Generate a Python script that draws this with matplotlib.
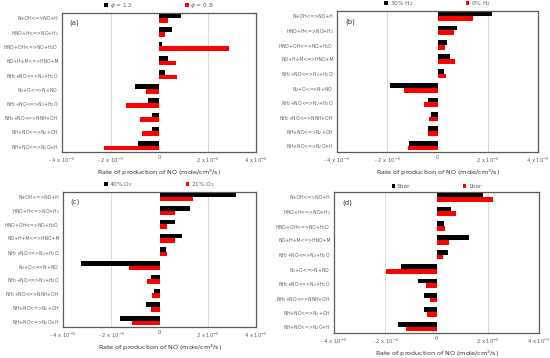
import matplotlib
matplotlib.use('Agg')
import matplotlib.pyplot as plt

# reaction names, top to bottom
reactions = [
    'N+OH<=>NO+H',
    'HNO+H<=>NO+H$_2$',
    'HNO+OH<=>NO+H$_2$O',
    'NO+H+M<=>HNO+M',
    'NH$_2$+NO<=>N$_2$+H$_2$O',
    'N$_2$+O<=>N+NO',
    'NH$_2$+NO<=>N$_2$+H$_2$O',
    'NH$_2$+NO<=>NNH+OH',
    'NH+NO<=>N$_2$+OH',
    'NH+NO<=>N$_2$O+H',
]

# rates in units of 1e-5 mole/cm3/s
a_phi12 = [0.90, 0.52, 0.11, 0.39, 0.23, -0.97, -0.46, -0.28, -0.30, -0.86]
a_phi08 = [0.39, 0.23, 2.87, 0.70, 0.73, -0.54, -1.35, -0.77, -0.69, -2.28]
b_h2_30 = [2.15, 0.77, 0.38, 0.50, 0.26, -1.88, -0.39, -0.24, -0.38, -1.15]
b_h2_0 = [1.41, 0.66, 0.31, 0.68, 0.32, -1.32, -0.54, -0.32, -0.36, -1.19]
c_o2_40 = [3.18, 1.27, 0.66, 0.95, 0.26, -3.24, -0.34, -0.24, -0.57, -1.62]
c_o2_21 = [1.38, 0.64, 0.30, 0.64, 0.32, -1.28, -0.53, -0.31, -0.36, -1.15]
d_5bar = [1.82, 0.55, 0.30, 1.28, 0.45, -1.39, -0.72, -0.47, -0.49, -1.49]
d_1bar = [2.20, 0.77, 0.35, 0.49, 0.24, -1.96, -0.41, -0.26, -0.39, -1.19]

xticks = [-4, -2, 0, 2, 4]
xtick_labels = ['- 4 x 10$^{-5}$', '- 2 x 10$^{-5}$', '0', '2 x 10$^{-5}$', '4 x 10$^{-5}$']

W, H = 550, 358
fig = plt.figure(figsize=(W / 100, H / 100), dpi=100)

# pixel boxes: left, top, right, bottom
panels = [
    ((62, 13, 256, 152), '(a)', a_phi12, a_phi08, '$\\phi$ = 1.2', '$\\phi$ = 0.8'),
    ((337, 11, 538, 152), '(b)', b_h2_30, b_h2_0, '30% H$_2$', '0% H$_2$'),
    ((63, 192, 256, 327), '(c)', c_o2_40, c_o2_21, '40% O$_2$', '21% O$_2$'),
    ((334, 192, 539, 333), '(d)', d_5bar, d_1bar, '5bar', '1bar'),
]

ypos = list(range(len(reactions)))
bh = 0.33

for (l, t, r, b), tag, s1, s2, lab1, lab2 in panels:
    ax = fig.add_axes([l / W, 1 - b / H, (r - l) / W, (b - t) / H])
    ax.barh([y - bh / 2 for y in ypos], s1, height=bh, color='black', label=lab1)
    ax.barh([y + bh / 2 for y in ypos], s2, height=bh, color='#ff0000', label=lab2)
    ax.set_xlim(-4, 4)
    ax.set_ylim(9.45, -0.35)
    ax.set_xticks(xticks)
    ax.set_xticklabels(xtick_labels, fontsize=3.8)
    ax.set_yticks(ypos)
    ax.set_yticklabels(reactions, fontsize=3.3)
    ax.tick_params(length=0, labelcolor='#606060', pad=2.5)
    for gx in (-2, 2):
        ax.axvline(gx, color='#d9d9d9', lw=0.7, zorder=0)
    for sp in ax.spines.values():
        sp.set_color('#595959')
        sp.set_linewidth(0.9)
    ax.text(0.04, 0.95, tag, transform=ax.transAxes, fontsize=5, va='top', color='#333333')
    ax.set_xlabel('Rate of production of NO (mole/cm$^3$/s)', fontsize=4.6, color='#333333', labelpad=2)
    ax.legend(loc='lower center', bbox_to_anchor=(0.5, 1.0), ncol=2, frameon=False,
              fontsize=4.2, labelcolor='#606060', handlelength=0.6, handleheight=0.6,
              columnspacing=9, handletextpad=0.3, borderaxespad=0.1)

fig.savefig('out.png', dpi=100)
